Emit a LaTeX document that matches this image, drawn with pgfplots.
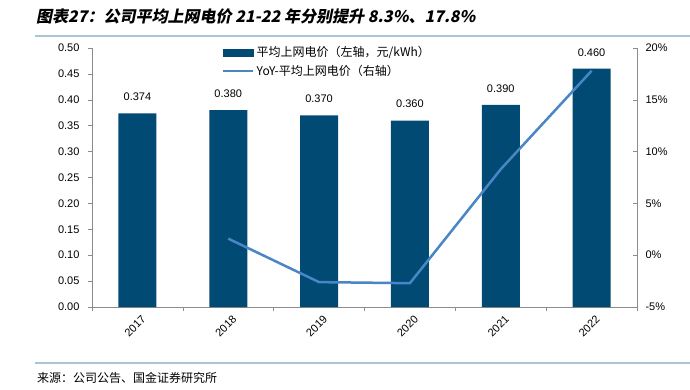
\documentclass[border=0pt]{standalone}
\usepackage{fontspec}
\usepackage{pgfplots}
\pgfplotsset{compat=1.18}
\setmainfont{Liberation Sans}
\newfontfamily\cjk{Noto Sans CJK SC}
\newfontfamily\cjktitle[FakeSlant=0.2]{Noto Sans CJK SC}
\definecolor{barcol}{HTML}{004A73}
\definecolor{linecol}{HTML}{4A86C5}
\definecolor{rulecol}{HTML}{A9C4D4}
\definecolor{axcol}{HTML}{8C8C8C}
\begin{document}
\begin{tikzpicture}[x=1pt,y=1pt]
\path[use as bounding box] (0,0) rectangle (690,389);
\node[anchor=west,inner sep=0pt] at (36,373) {\cjktitle\bfseries\fontsize{16}{19}\selectfont 图表27：公司平均上网电价 21-22 年分别提升 8.3\%、17.8\%};
\draw[rulecol,line width=1.2pt] (35,353) -- (690,353);
\draw[rulecol,line width=1.2pt] (35,26) -- (690,26);
\node[anchor=west,inner sep=0pt] at (37,11) {\cjk\fontsize{12}{14}\selectfont 来源：公司公告、国金证券研究所};

\begin{axis}[
  at={(92pt,82pt)}, anchor=south west,
  width=545pt, height=259pt, scale only axis,
  xmin=-0.5, xmax=5.5, ymin=0, ymax=0.5,
  axis x line*=bottom, axis y line*=left,
  axis line style={axcol, line width=0.8pt},
  xtick={0,1,2,3,4,5},
  xticklabels={2017,2018,2019,2020,2021,2022},
  major x tick style={draw=none},
  minor xtick={-0.5,0.5,1.5,2.5,3.5,4.5,5.5},
  minor x tick style={axcol, line width=0.6pt},
  minor tick length=4pt,
  x tick label style={rotate=45, anchor=north east, font=\fontsize{11}{13}\selectfont, inner sep=1pt, yshift=-4pt, xshift=1pt},
  ytick={0,0.05,...,0.5},
  y tick label style={font=\fontsize{11}{13}\selectfont, xshift=-5pt, /pgf/number format/.cd, fixed, fixed zerofill, precision=2},
  /pgf/number format/assume math mode=true,
  ytick align=outside, y tick style={axcol, line width=0.6pt},
  major tick length=4pt,
  ybar, bar width=38pt,
  nodes near coords={\pgfmathprintnumber[fixed,fixed zerofill,precision=3]{\pgfplotspointmeta}},
  every node near coord/.append style={font=\fontsize{11}{13}\selectfont, yshift=9pt},
  clip=false,
]
\addplot[fill=barcol, draw=none] coordinates {(0,0.374) (1,0.380) (2,0.370) (3,0.360) (4,0.390) (5,0.460)};
\end{axis}

\begin{axis}[
  at={(92pt,82pt)}, anchor=south west,
  width=545pt, height=259pt, scale only axis,
  xmin=-0.5, xmax=5.5, ymin=-5, ymax=20,
  axis y line*=right, axis x line=none,
  xtick=\empty,
  axis line style={axcol, line width=0.8pt},
  ytick={-5,0,5,10,15,20},
  yticklabel={\pgfmathprintnumber{\tick}\%},
  y tick label style={font=\fontsize{11}{13}\selectfont, xshift=5pt},
  /pgf/number format/assume math mode=true,
  ytick align=inside, y tick style={axcol, line width=0.6pt},
  major tick length=4pt,
  legend style={at={(0.2385,1.015)}, anchor=north west, draw=none, fill=none,
    font=\cjk\fontsize{12}{14}\selectfont, row sep=3pt, inner sep=0pt},
  legend cell align=left,
  clip=false,
]
\addlegendimage{legend image code/.code={\fill[barcol] (0pt,-3.5pt) rectangle (30pt,3.5pt);}}
\addlegendentry{平均上网电价（左轴，元/kWh）}
\addplot[linecol, line width=2.5pt, mark=none,
  legend image code/.code={\draw[linecol,line width=2.5pt] (0pt,0pt) -- (30pt,0pt);}]
  coordinates {(1,1.6) (2,-2.6) (3,-2.7) (4,8.3) (5,17.8)};
\addlegendentry{YoY-平均上网电价（右轴）}
\end{axis}
\end{tikzpicture}
\end{document}
